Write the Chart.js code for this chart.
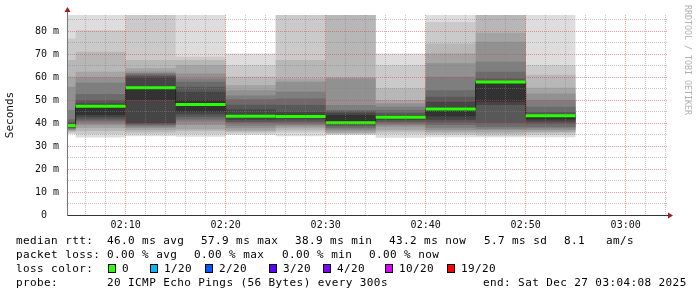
<!DOCTYPE html>
<html>
<head>
<meta charset="utf-8">
<script src="https://cdn.jsdelivr.net/npm/chart.js@4"></script>
<style>
html, body { margin: 0; padding: 0; background: #fff; }
#wrap { position: relative; width: 697px; height: 297px; overflow: hidden; }
#graph { position: absolute; left: 0; top: 0; }
.leg { position: absolute; font-family: "DejaVu Sans Mono", monospace; font-size: 11px; letter-spacing: 0.4px; line-height: 14px; white-space: pre; color: #000; }
.box { position: absolute; width: 6px; height: 7px; border: 1px solid #000; }
#credit { position: absolute; left: 683px; top: 5px; font-family: "DejaVu Sans Mono", monospace; font-size: 8.3px; line-height: 9px; color: #b0b0b0; writing-mode: vertical-rl; white-space: pre; }
</style>
</head>
<body>
<div id="wrap">
  <canvas id="graph" width="697" height="297"></canvas>
  <div id="credit">RRDTOOL / TOBI OETIKER</div>

  <span class="leg" style="left:16px;top:234px">median rtt:</span>
  <span class="leg" style="left:107px;top:234px">46.0 ms avg</span>
  <span class="leg" style="left:201px;top:234px">57.9 ms max</span>
  <span class="leg" style="left:295px;top:234px">38.9 ms min</span>
  <span class="leg" style="left:389px;top:234px">43.2 ms now</span>
  <span class="leg" style="left:484px;top:234px">5.7 ms sd</span>
  <span class="leg" style="left:564px;top:234px">8.1</span>
  <span class="leg" style="left:606px;top:234px">am/s</span>

  <span class="leg" style="left:16px;top:248px">packet loss:</span>
  <span class="leg" style="left:107px;top:248px">0.00 % avg</span>
  <span class="leg" style="left:194px;top:248px">0.00 % max</span>
  <span class="leg" style="left:282px;top:248px">0.00 % min</span>
  <span class="leg" style="left:369px;top:248px">0.00 % now</span>

  <span class="leg" style="left:16px;top:262px">loss color:</span>
  <div id="lossRow"></div>

  <span class="leg" style="left:16px;top:276px">probe:</span>
  <span class="leg" style="left:107px;top:276px">20 ICMP Echo Pings (56 Bytes) every 300s</span>
  <span class="leg" style="left:483px;top:276px">end: Sat Dec 27 03:04:08 2025</span>
</div>
<script>
// time slots (5 min steps), the first one is cut by the graph start
const slotStart = ['02:04:08', '02:05:00', '02:10:00', '02:15:00', '02:20:00', '02:25:00',
                   '02:30:00', '02:35:00', '02:40:00', '02:45:00', '02:50:00'];
const slotEnd = '02:55:00';
const viewStart = '02:04:08';
const viewEnd = '03:04:08';

// 20 sorted ping rtts (ms) per slot
const s0204 = [35.2, 35.6, 36.2, 36.6, 37.0, 37.3, 37.6, 38.0, 38.2, 38.5, 39.2, 39.9, 40.5, 41.7, 45.7, 55.8, 60.1, 67.4, 76.8, 95.0];
const s0205 = [33.7, 35.2, 36.5, 37.8, 39.0, 39.9, 40.8, 41.5, 42.5, 43.5, 47.4, 48.6, 50.0, 52.6, 57.5, 59.9, 62.3, 71.0, 80.4, 95.0];
const s0210 = [34.3, 35.2, 36.0, 37.0, 37.8, 38.5, 39.0, 39.5, 39.9, 50.0, 55.5, 60.1, 60.6, 61.2, 61.8, 62.4, 63.8, 67.4, 90.0, 100.0];
const s0215 = [34.0, 35.2, 36.5, 37.3, 39.1, 40.6, 41.5, 42.7, 43.8, 44.9, 50.0, 53.6, 55.8, 58.0, 59.4, 61.6, 65.2, 67.4, 68.8, 95.0];
const s0220 = [34.8, 35.5, 36.2, 36.7, 37.7, 38.8, 39.9, 40.5, 41.3, 42.2, 43.5, 46.0, 48.0, 50.3, 52.0, 54.3, 56.5, 60.1, 65.2, 70.3];
const s0225 = [34.3, 35.8, 36.8, 37.7, 38.5, 39.1, 39.8, 40.6, 41.5, 42.3, 43.5, 44.9, 47.8, 50.7, 53.6, 58.0, 59.4, 67.4, 90.0, 95.0];
const s0230 = [34.8, 35.0, 35.4, 35.8, 36.6, 37.3, 38.0, 38.7, 39.4, 40.0, 43.5, 44.5, 45.2, 45.7, 47.8, 59.5, 59.9, 95.0, 100.0, 105.0];
const s0235 = [33.6, 35.2, 36.2, 37.0, 38.4, 39.1, 39.9, 40.6, 41.3, 42.0, 43.0, 43.5, 44.5, 45.7, 47.1, 48.6, 50.0, 55.1, 65.2, 70.3];
const s0240 = [33.8, 34.8, 35.5, 36.2, 37.0, 38.0, 39.1, 40.2, 41.3, 43.0, 47.0, 49.3, 51.4, 54.3, 60.1, 66.0, 70.3, 74.6, 84.0, 95.0];
const s0245 = [33.8, 34.5, 35.2, 36.0, 37.0, 37.5, 38.4, 39.9, 47.8, 49.3, 58.2, 58.3, 59.4, 62.3, 66.7, 75.4, 79.3, 95.0, 100.0, 105.0];
const s0250 = [33.8, 34.8, 35.8, 36.2, 37.0, 37.7, 38.4, 39.6, 40.6, 41.5, 43.4, 43.6, 44.9, 47.1, 50.0, 52.9, 55.3, 61.0, 65.2, 95.0];

const medianRtt = [38.9, 47.3, 55.4, 48.1, 43.0, 42.9, 40.1, 42.5, 46.1, 57.9, 43.2];
const lossCount = [0, 0, 0, 0, 0, 0, 0, 0, 0, 0, 0];

const lossLabels = ['0', '1/20', '2/20', '3/20', '4/20', '10/20', '19/20'];
const lossSteps = [0, 1, 2, 3, 4, 10, 19];
const lossColors = ['#26ff00', '#00b8ff', '#0059ff', '#5e00ff', '#7e00ff', '#dd00ff', '#ff0000'];

const yMax = 87;

// ---- build
const slots = [s0204, s0205, s0210, s0215, s0220, s0225, s0230, s0235, s0240, s0245, s0250];
const toMin = t => { const [h, m, s] = t.split(':').map(Number); return h * 60 + m + s / 60; };
const edges = slotStart.map(toMin).concat(toMin(slotEnd));
const last = slots.length - 1;

function rankLine(r) {
  const pts = slots.map((s, k) => ({x: edges[k], y: s[r]}));
  pts.push({x: edges[last + 1], y: slots[last][r]});
  return pts;
}

function lossColor(n) {
  let c = lossColors[0];
  lossSteps.forEach((st, i) => { if (n >= st) c = lossColors[i]; });
  return c;
}

const medianLine = medianRtt.map((v, k) => ({x: edges[k], y: v}));
medianLine.push({x: edges[last + 1], y: medianRtt[last]});

const lossLine = [];
medianRtt.forEach((v, k) => {
  lossLine.push({x: edges[k], y: v}, {x: edges[k + 1], y: v}, {x: edges[k + 1], y: null});
});

const datasets = [
  {
    data: lossLine, borderWidth: 3, borderCapStyle: 'butt', pointRadius: 0, spanGaps: false,
    borderColor: lossColors[0],
    segment: {borderColor: c => lossColor(lossCount[Math.floor(c.p0DataIndex / 3)])}
  },
  {data: medianLine, stepped: true, borderWidth: 1, borderColor: '#202020', pointRadius: 0}
];

// smoke: band i spans ping i .. ping 21-i, darker towards the middle
for (let i = 10; i >= 1; i--) {
  const g = Math.floor(190 / 10 * (10 - i)) + 50;
  datasets.push({data: rankLine(i - 1), stepped: true, borderWidth: 0, borderColor: 'transparent', pointRadius: 0, fill: false});
  datasets.push({data: rankLine(20 - i), stepped: true, borderWidth: 0, borderColor: 'transparent', pointRadius: 0,
                 fill: '-1', backgroundColor: `rgb(${g},${g},${g})`});
}

const majorGrid = 'rgba(230,60,60,0.5)';
const minorGrid = 'rgba(130,130,130,0.45)';
const tickFont = {family: 'DejaVu Sans Mono', size: 10};

const alignPx = (p) => Math.round(p - 0.5) + 0.5;

const axisArrows = {
  id: 'axisArrows',
  afterDraw(chart) {
    const {ctx, chartArea: a} = chart;
    const x0 = alignPx(a.left), y0 = alignPx(a.bottom);
    ctx.save();
    ctx.lineWidth = 1;
    ctx.strokeStyle = '#777';
    ctx.beginPath(); ctx.moveTo(x0, a.top); ctx.lineTo(x0, a.top - 4); ctx.stroke();
    ctx.strokeStyle = '#333';
    ctx.beginPath(); ctx.moveTo(a.right, y0); ctx.lineTo(a.right + 2, y0); ctx.stroke();
    ctx.fillStyle = '#a11d1d';
    ctx.beginPath();
    ctx.moveTo(x0, a.top - 8); ctx.lineTo(x0 - 3, a.top - 3); ctx.lineTo(x0 + 3, a.top - 3);
    ctx.closePath(); ctx.fill();
    ctx.beginPath();
    ctx.moveTo(a.right + 6, y0); ctx.lineTo(a.right + 1, y0 - 3); ctx.lineTo(a.right + 1, y0 + 3);
    ctx.closePath(); ctx.fill();
    ctx.restore();
  }
};

const gridColor = c => (c.tick && Math.round(c.tick.value) % 10 === 0) ? majorGrid : minorGrid;

new Chart(document.getElementById('graph'), {
  type: 'line',
  data: {datasets},
  options: {
    responsive: false,
    animation: false,
    events: [],
    parsing: true,
    layout: {padding: {left: 0, top: 15, right: 30, bottom: 0}},
    plugins: {legend: {display: false}, tooltip: {enabled: false}},
    scales: {
      x: {
        type: 'linear',
        min: toMin(viewStart),
        max: toMin(viewEnd),
        afterFit: s => { s.height = 82; },
        afterBuildTicks: s => {
          const t = [];
          for (let v = Math.ceil(s.min / 2) * 2; v <= s.max; v += 2) t.push({value: v});
          s.ticks = t;
        },
        ticks: {
          autoSkip: false, maxRotation: 0, padding: 4, font: tickFont, color: '#111',
          callback: v => {
            if (Math.round(v) % 10 !== 0) return '';
            const h = Math.floor(v / 60), m = Math.round(v % 60);
            return String(h).padStart(2, '0') + ':' + String(m).padStart(2, '0');
          }
        },
        grid: {color: gridColor, lineWidth: 1, drawTicks: false, z: 1},
        border: {color: '#333', width: 1, dash: [1, 1], z: 2}
      },
      y: {
        type: 'linear',
        min: 0,
        max: yMax,
        afterFit: s => { s.width = 67; },
        afterBuildTicks: s => {
          const t = [];
          for (let v = 0; v <= s.max; v += 5) t.push({value: v});
          s.ticks = t;
        },
        ticks: {
          autoSkip: false, padding: 8, font: tickFont, color: '#111',
          callback: v => (v % 10 !== 0) ? '' : (v === 0 ? '0  ' : v + ' m')
        },
        grid: {color: gridColor, lineWidth: 1, drawTicks: false, z: 1},
        border: {color: '#777', width: 1, dash: [1, 1], z: 2},
        title: {display: true, text: 'Seconds', color: '#111',
                font: {family: 'DejaVu Sans Mono', size: 11}, padding: {top: 4, bottom: 0}}
      }
    }
  },
  plugins: [axisArrows]
});

// loss colour legend row
const boxX = [108, 150, 205, 269, 323, 385, 447];
const row = document.getElementById('lossRow');
lossLabels.forEach((lab, i) => {
  const b = document.createElement('div');
  b.className = 'box';
  b.style.left = boxX[i] + 'px';
  b.style.top = '264px';
  b.style.background = lossColors[i];
  row.appendChild(b);
  const t = document.createElement('span');
  t.className = 'leg';
  t.style.left = (boxX[i] + 14) + 'px';
  t.style.top = '262px';
  t.textContent = lab;
  row.appendChild(t);
});
</script>
</body>
</html>
